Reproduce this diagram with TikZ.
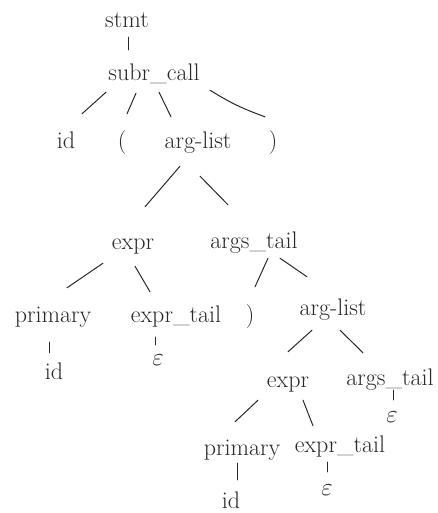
\documentclass[tikz,border=0pt]{standalone}
\usetikzlibrary{calc}
\definecolor{ink}{RGB}{40,40,40}
\begin{document}
\begin{tikzpicture}[x=1pt,y=-1pt,
  lbl/.style={anchor=base,inner sep=5pt,text height=11pt,text depth=4pt,
    font=\fontsize{24}{28}\selectfont,text=ink},
  eps/.style={lbl,font=\fontsize{28}{30}\selectfont},
  edge/.style={draw=ink,line width=1pt,line cap=round}]
\useasboundingbox (0,0) rectangle (437,513);
% nodes
\node[lbl] (stmt) at (127,28) {stmt};
\node[lbl] (subr) at (154,81) {subr\_call};
\node[lbl] (id1) at (66,149) {id};
\node[lbl] (lp) at (122,149) {(};
\node[lbl] (al1) at (198,149) {arg-list};
\node[lbl] (rp) at (273,149) {)};
\node[lbl] (expr1) at (133,249) {expr};
\node[lbl] (at1) at (254,248) {args\_tail};
\node[lbl] (prim1) at (53,322) {primary};
\node[lbl] (et1) at (176,322) {expr\_tail};
\node[lbl] (rp2) at (250,322) {)};
\node[lbl] (al2) at (333,315) {arg-list};
\node[lbl] (id2) at (54,379) {id};
\node[eps] (eps1) at (158,365) {$\varepsilon$};
\node[lbl] (expr2) at (288,387) {expr};
\node[lbl] (at2) at (390,385) {args\_tail};
\node[eps] (eps2) at (392,422) {$\varepsilon$};
\node[lbl] (prim2) at (242,455) {primary};
\node[lbl] (et2) at (340,452) {expr\_tail};
\node[lbl,inner sep=3pt,text depth=0pt] (id3) at (231,508) {id};
\node[eps] (eps3) at (327,495) {$\varepsilon$};
% edges
\draw[edge] ($(stmt.south)+(1,0)$) -- ($(subr.north)+(-26,-15)$);
\draw[edge] ($(subr.south)+(-48,2)$) -- ($(id1.north)+(16,-19)$);
\draw[edge] ($(subr.south)+(-18,3)$) -- ($(lp.north)+(5,-19)$);
\draw[edge] ($(subr.south)+(5,2)$) -- ($(al1.north)+(-27,-16)$);
\draw[edge] ($(subr.south)+(56,0)$) to[bend right=6] ($(rp.north)+(-8,-16)$);
\draw[edge] ($(al1.south)+(-18,8)$) -- ($(expr1.north)+(12,-26)$);
\draw[edge] ($(al1.south)+(2,18)$) -- ($(at1.north)+(-26,-27)$);
\draw[edge] ($(expr1.south)+(-30,5)$) -- ($(prim1.north)+(14,-18)$);
\draw[edge] ($(expr1.south)+(2,8)$) -- ($(et1.north)+(-26,-14)$);
\draw[edge] ($(at1.south)+(14,1)$) -- ($(rp2.north)+(5,-19)$);
\draw[edge] ($(at1.south)+(26,1)$) -- ($(al2.north)+(-26,-22)$);
\draw[edge] ($(prim1.south)+(-4,11)$) -- ($(id2.north)+(-5,-10)$);
\draw[edge] ($(et1.south)+(-21,6)$) -- ($(eps1.north)+(-3,-4)$);
\draw[edge] ($(al2.south)+(-21,6)$) -- ($(expr2.north)+(0,-19)$);
\draw[edge] ($(al2.south)+(7,6)$) -- ($(at2.north)+(-27,-16)$);
\draw[edge] ($(at2.south)+(3,-4)$) -- ($(eps2.north)+(1,-6)$);
\draw[edge] ($(expr2.south)+(-30,4)$) -- ($(prim2.north)+(-7,-17)$);
\draw[edge] ($(expr2.south)+(15,4)$) -- ($(et2.north)+(-27,-10)$);
\draw[edge] ($(prim2.south)+(-5,-1)$) -- ($(id3.north)+(6,-14)$);
\draw[edge] ($(et2.south)+(-13,1)$) -- ($(eps3.north)+(0,-7)$);
\end{tikzpicture}
\end{document}
